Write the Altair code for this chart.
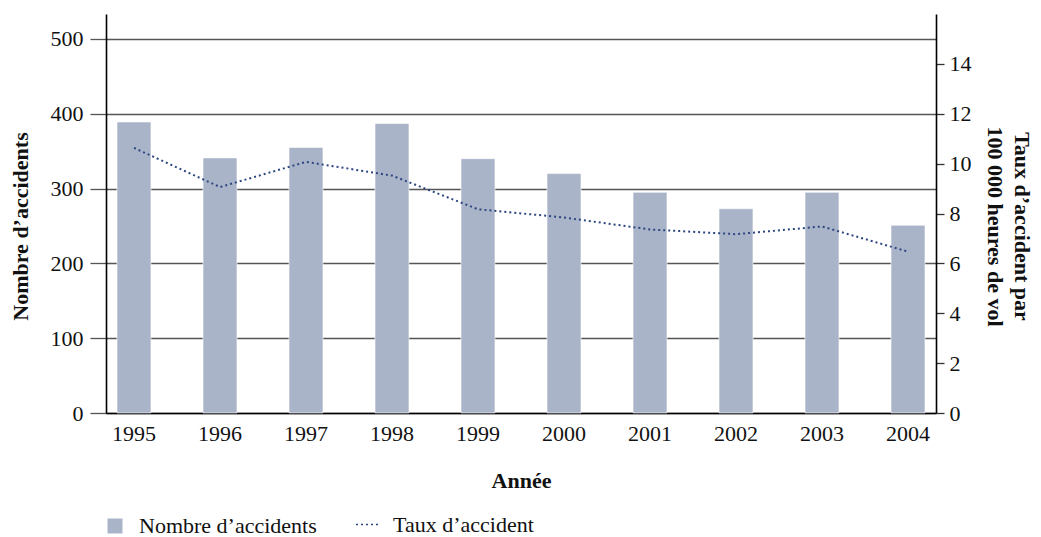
import altair as alt
import pandas as pd

years = ["1995", "1996", "1997", "1998", "1999", "2000", "2001", "2002", "2003", "2004"]
accidents = [389, 341, 355, 387, 340, 320, 295, 273, 295, 251]
rates = [10.63, 9.06, 10.07, 9.52, 8.17, 7.84, 7.36, 7.17, 7.48, 6.47]
left_ticks = [0, 100, 200, 300, 400, 500]
right_ticks = [0, 2, 4, 6, 8, 10, 12, 14]

bar_label = "Nombre d\u2019accidents"
line_label = "Taux d\u2019accident"

df = pd.DataFrame({
    "year": years,
    "accidents": accidents,
    "rate": rates,
    "s_bar": [bar_label] * len(years),
    "s_line": [line_label] * len(years),
})

FONT = "Liberation Serif"
BAR_COLOR = "#aab4c9"
LINE_COLOR = "#2c4680"

x = alt.X(
    "year:N",
    title="Année",
    scale=alt.Scale(paddingInner=0.605, paddingOuter=0.128),
    axis=alt.Axis(
        labelAngle=0, ticks=False, labelPadding=10, titlePadding=26,
        domainColor="#000000", domainWidth=1.6,
        labelFont=FONT, labelFontSize=22, labelColor="#111111",
        titleFont=FONT, titleFontSize=22, titleFontWeight="bold", titleColor="#111111",
    ),
)

bars = alt.Chart(df).mark_bar(stroke="#ffffff", strokeWidth=0.6).encode(
    x=x,
    y=alt.Y(
        "accidents:Q",
        scale=alt.Scale(domain=[0, 533.33], nice=False, zero=True),
        axis=alt.Axis(
            values=left_ticks, title=bar_label, grid=True,
            gridColor="#555555", gridWidth=1.3,
            tickSize=16, tickColor="#555555", tickWidth=1.3, labelPadding=7,
            domainColor="#000000", domainWidth=1.6,
            labelFont=FONT, labelFontSize=22, labelColor="#111111",
            titleFont=FONT, titleFontSize=22, titleFontWeight="bold", titleColor="#111111",
            titleX=-86, titleY=212, titleBaseline="middle", titleAlign="center",
        ),
    ),
    fill=alt.Fill(
        "s_bar:N",
        scale=alt.Scale(domain=[bar_label], range=[BAR_COLOR]),
        legend=alt.Legend(
            title=None, orient="none", legendX=-2, legendY=501,
            symbolType="square", symbolSize=225, symbolStrokeWidth=0,
            labelFont=FONT, labelFontSize=22, labelColor="#111111",
            labelOffset=13, padding=0, labelLimit=0,
        ),
    ),
)

line = alt.Chart(df).mark_line(
    strokeDash=[2, 3], strokeWidth=2, interpolate="linear"
).encode(
    x=alt.X("year:N"),
    y=alt.Y(
        "rate:Q",
        scale=alt.Scale(domain=[0, 16], nice=False, zero=True),
        axis=alt.Axis(
            orient="right", values=right_ticks,
            title=["Taux d\u2019accident par", "100 000 heures de vol"],
            grid=False, tickSize=8, tickColor="#333333", tickWidth=1.3,
            labelPadding=5, domainColor="#000000", domainWidth=1.6,
            labelFont=FONT, labelFontSize=22, labelColor="#111111",
            titleFont=FONT, titleFontSize=22, titleFontWeight="bold", titleColor="#111111",
            titleLineHeight=27, titleX=85, titleY=212, titleBaseline="middle",
            titleAlign="center", titleAngle=90,
        ),
    ),
    stroke=alt.Stroke(
        "s_line:N",
        scale=alt.Scale(domain=[line_label], range=[LINE_COLOR]),
        legend=alt.Legend(
            title=None, orient="none", legendX=249, legendY=497,
            symbolType="stroke", symbolSize=625, symbolStrokeWidth=1.5,
            symbolDash=[2, 3],
            labelFont=FONT, labelFontSize=22, labelColor="#111111",
            labelOffset=11, padding=0, labelLimit=0,
        ),
    ),
)

chart = alt.layer(bars, line).resolve_scale(
    y="independent", fill="independent", stroke="independent"
).resolve_legend(fill="independent", stroke="independent").properties(
    width=830, height=399,
    autosize=alt.AutoSizeParams(type="none"),
    padding={"left": 98, "top": 6, "right": 97, "bottom": 125},
    background="#ffffff",
).configure_view(stroke=None)

chart.save("out.html", embed_options={"renderer": "svg", "actions": False})
